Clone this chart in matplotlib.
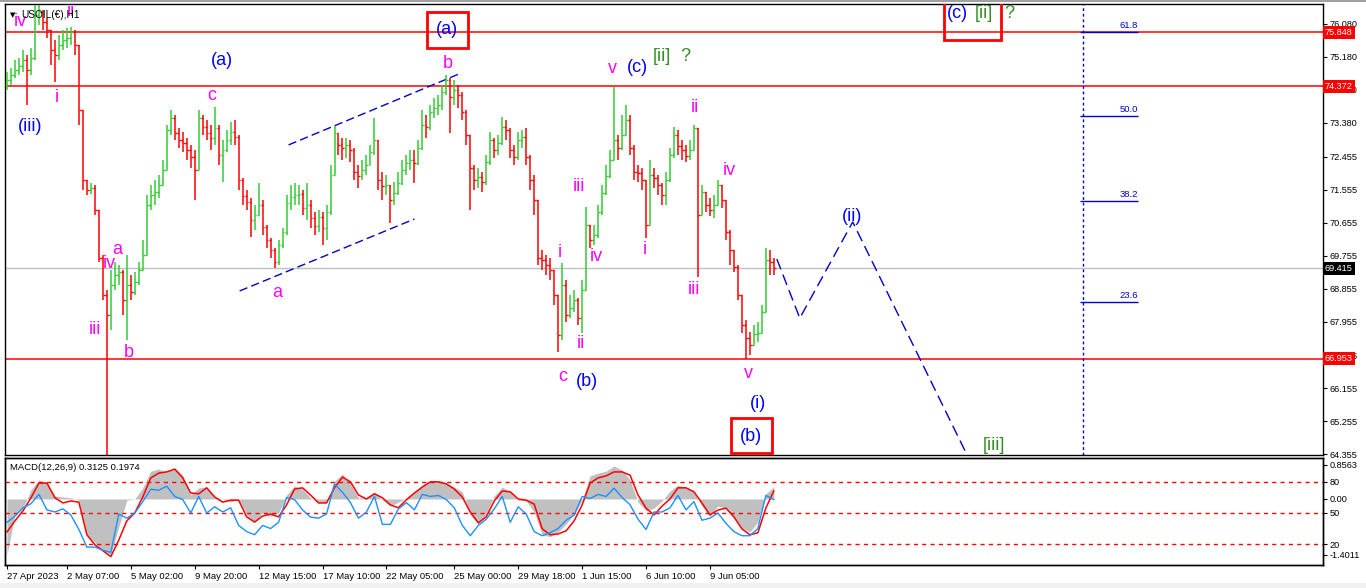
import matplotlib
matplotlib.use("Agg")
import matplotlib.pyplot as plt
import numpy as np
from matplotlib.patches import Rectangle
from matplotlib.transforms import blended_transform_factory

plt.rcParams["font.family"] = ["Liberation Sans", "DejaVu Sans"]

# ---- price bars (H1, one bar per 4 px) ----
first_open = 74.42
close = [
    74.55, 74.69, 74.83, 74.94, 75.10, 74.83, 75.15, 76.33, 76.41, 76.14,
    75.92, 75.37, 75.24, 75.51, 75.64, 75.70, 75.86, 75.51, 73.74, 71.83,
    71.55, 71.61, 71.01, 69.70, 68.69, 68.14, 68.96, 69.23, 69.32, 68.55,
    68.96, 68.77, 69.04, 69.37, 69.78, 71.14, 71.42, 71.50, 71.69, 72.10,
    73.19, 73.52, 73.11, 72.92, 72.84, 72.64, 72.45, 72.10, 73.52, 73.27,
    73.11, 72.97, 73.25, 72.51, 72.64, 72.92, 73.13, 73.00, 71.83, 71.39,
    71.23, 70.74, 70.87, 71.14, 70.54, 70.19, 69.92, 69.59, 70.05, 70.41,
    71.20, 71.36, 71.42, 71.45, 71.06, 71.14, 70.79, 70.57, 70.82, 70.52,
    70.95, 71.96, 73.11, 72.78, 72.70, 72.78, 72.64, 72.04, 71.93, 72.10,
    72.24, 72.59, 72.92, 71.83, 71.66, 71.69, 71.28, 71.47, 71.74, 72.10,
    72.29, 72.37, 72.29, 72.70, 73.33, 73.27, 73.68, 73.79, 73.87, 74.23,
    74.55, 74.09, 74.28, 74.14, 73.68, 73.05, 72.15, 71.83, 71.91, 71.77,
    72.32, 72.92, 72.64, 72.84, 73.27, 73.19, 72.64, 72.45, 72.92, 73.00,
    72.45, 71.83, 71.28, 69.70, 69.64, 69.51, 69.37, 68.69, 67.60, 68.96,
    68.14, 68.34, 68.55, 68.06, 68.83, 70.60, 70.19, 70.33, 70.95, 71.47,
    71.93, 72.37, 72.92, 72.70, 73.05, 73.46, 72.70, 72.04, 72.02, 71.83,
    70.60, 71.96, 71.88, 71.69, 71.42, 71.83, 72.51, 73.05, 72.75, 72.64,
    72.48, 72.64, 73.25, 70.87, 71.50, 71.14, 71.01, 71.14, 71.69, 71.28,
    70.41, 69.92, 69.45, 68.69, 67.87, 67.52, 67.33, 67.63, 67.65, 68.23,
    69.64, 69.59, 69.42,
]
high = [
    74.77, 74.88, 75.10, 75.15, 75.37, 75.24, 75.43, 76.60, 76.60, 76.46,
    76.24, 75.92, 75.64, 75.78, 75.92, 75.97, 76.00, 75.92, 75.51, 73.74,
    71.77, 71.74, 71.69, 71.01, 69.78, 68.83, 69.37, 69.59, 69.51, 69.37,
    69.78, 69.23, 69.32, 69.59, 70.19, 71.42, 71.69, 71.83, 71.96, 72.37,
    73.33, 73.74, 73.60, 73.25, 73.13, 72.97, 72.78, 72.64, 73.74, 73.60,
    73.46, 73.33, 73.82, 73.33, 72.92, 73.19, 73.41, 73.46, 73.05, 71.88,
    71.55, 71.34, 71.14, 71.74, 71.28, 70.60, 70.24, 69.97, 70.19, 70.52,
    71.42, 71.69, 71.74, 71.69, 71.55, 71.74, 71.28, 70.95, 71.01, 70.95,
    71.14, 72.24, 73.30, 73.05, 72.97, 72.97, 72.92, 72.70, 72.24, 72.37,
    72.51, 72.78, 73.52, 72.92, 72.04, 71.96, 71.69, 71.77, 72.04, 72.37,
    72.51, 72.64, 72.64, 72.92, 73.74, 73.60, 73.87, 74.06, 74.14, 74.42,
    74.69, 74.61, 74.55, 74.42, 74.23, 73.74, 73.05, 72.24, 72.15, 72.04,
    72.51, 73.13, 72.97, 73.05, 73.54, 73.46, 73.25, 72.78, 73.13, 73.19,
    73.25, 72.51, 71.96, 71.28, 69.92, 69.78, 69.70, 69.37, 68.69, 69.56,
    69.10, 68.69, 68.83, 68.61, 69.10, 71.09, 70.60, 70.60, 71.14, 71.69,
    72.24, 72.64, 74.36, 73.05, 73.60, 73.87, 73.60, 72.78, 72.24, 72.15,
    71.83, 72.37, 72.15, 71.96, 71.74, 72.04, 72.70, 73.27, 73.19, 72.92,
    72.78, 72.92, 73.33, 73.25, 71.69, 71.50, 71.34, 71.42, 71.83, 71.69,
    71.28, 70.46, 69.92, 69.51, 68.69, 68.01, 67.68, 67.87, 67.95, 68.42,
    69.97, 69.92, 69.70,
]
low = [
    74.28, 74.42, 74.61, 74.69, 74.77, 73.87, 74.69, 75.10, 76.05, 75.92,
    75.70, 74.96, 74.50, 75.10, 75.37, 75.43, 75.51, 75.24, 73.33, 71.55,
    71.42, 71.45, 70.87, 69.59, 68.55, 64.33, 67.74, 68.83, 68.96, 68.14,
    67.46, 68.55, 68.69, 68.96, 69.37, 69.78, 71.01, 71.14, 71.34, 71.69,
    72.10, 73.05, 72.92, 72.70, 72.59, 72.37, 72.15, 71.28, 72.10, 73.05,
    72.92, 72.64, 72.78, 72.24, 71.77, 72.59, 72.78, 72.78, 71.55, 71.14,
    71.01, 70.27, 70.46, 70.87, 70.33, 69.97, 69.70, 69.43, 69.51, 69.97,
    70.33, 71.01, 71.14, 71.14, 70.87, 70.74, 70.52, 70.33, 70.41, 70.05,
    70.19, 70.87, 71.96, 72.51, 72.37, 72.43, 72.32, 71.83, 71.61, 71.83,
    71.96, 72.24, 72.51, 71.55, 71.28, 71.42, 70.65, 71.14, 71.42, 71.69,
    71.96, 72.10, 71.74, 72.24, 72.64, 72.97, 73.19, 73.52, 73.60, 73.74,
    74.14, 73.11, 73.87, 73.79, 73.46, 72.78, 71.01, 71.55, 71.61, 71.50,
    71.69, 72.24, 72.43, 72.51, 72.78, 72.92, 72.43, 72.24, 72.37, 72.70,
    72.24, 71.55, 70.87, 69.51, 69.37, 69.23, 69.10, 68.42, 67.14, 67.46,
    67.95, 68.06, 68.23, 67.87, 67.65, 68.83, 69.97, 70.05, 70.24, 70.87,
    71.42, 71.88, 72.37, 72.37, 72.64, 73.05, 72.51, 71.83, 71.77, 71.55,
    70.24, 70.60, 71.61, 71.42, 71.14, 71.14, 71.77, 72.43, 72.51, 72.37,
    72.32, 72.37, 72.64, 69.18, 70.87, 70.95, 70.84, 70.79, 71.14, 71.06,
    70.19, 69.51, 69.32, 68.55, 67.65, 66.95, 67.05, 67.33, 67.41, 67.87,
    68.23, 69.23, 69.23,
]

# ---- MACD window (one value every 2 bars) ----
macd_hist = [
    -1.40, -0.40, -0.23, 0.23, 0.48, 0.40, 0.08, 0.05, 0.03, -0.03,
    -0.90, -1.10, -1.30, -1.40, -0.70, -0.03, 0.00, 0.28, 0.70, 0.75,
    0.68, 0.78, 0.60, 0.10, 0.28, 0.30, 0.05, 0.00, -0.08, 0.00,
    -0.40, -0.58, -0.35, -0.43, -0.35, 0.10, 0.33, 0.25, 0.03, -0.08,
    -0.08, 0.45, 0.63, 0.38, 0.03, 0.03, 0.18, -0.03, -0.18, -0.08,
    0.03, 0.18, 0.35, 0.45, 0.45, 0.38, 0.30, 0.18, -0.40, -0.63,
    -0.38, 0.08, 0.30, 0.18, -0.03, -0.05, -0.33, -0.90, -0.95, -0.83,
    -0.63, -0.38, -0.03, 0.58, 0.65, 0.70, 0.83, 0.73, 0.48, -0.08,
    -0.30, -0.23, -0.05, 0.20, 0.35, 0.28, 0.18, -0.18, -0.43, -0.18,
    -0.23, -0.45, -0.73, -0.83, -0.58, 0.13, 0.31,
]
macd_signal = [
    -0.83, -0.55, -0.30, 0.03, 0.40, 0.40, 0.03, -0.10, -0.05, -0.08,
    -0.90, -1.15, -1.30, -1.45, -1.03, -0.55, -0.35, 0.05, 0.53, 0.65,
    0.68, 0.75, 0.53, 0.15, 0.13, 0.28, 0.05, -0.08, -0.03, -0.03,
    -0.45, -0.58, -0.43, -0.38, -0.45, -0.15, 0.25, 0.28, 0.10, -0.10,
    -0.10, 0.28, 0.55, 0.43, 0.10, 0.00, 0.13, 0.03, -0.15, -0.22,
    -0.02, 0.15, 0.30, 0.43, 0.43, 0.38, 0.25, 0.05, -0.33, -0.60,
    -0.45, -0.05, 0.20, 0.18, 0.00, -0.03, -0.13, -0.75, -0.90, -0.88,
    -0.80, -0.55, -0.15, 0.40, 0.53, 0.58, 0.68, 0.68, 0.60, 0.10,
    -0.23, -0.40, -0.18, 0.00, 0.28, 0.28, 0.18, -0.10, -0.40, -0.28,
    -0.23, -0.45, -0.75, -0.90, -0.85, -0.23, 0.20,
]
osc_line = [
    41, 47, 55, 59, 68, 53, 51, 54, 48, 34,
    17, 17, 14, 12, 49, 45, 50, 61, 73, 72,
    76, 66, 63, 50, 66, 50, 56, 51, 55, 38,
    32, 29, 38, 35, 41, 65, 63, 53, 46, 45,
    49, 78, 70, 60, 45, 51, 66, 39, 39, 54,
    60, 53, 68, 66, 67, 63, 55, 38, 28, 38,
    44, 54, 66, 41, 56, 49, 32, 28, 31, 35,
    43, 48, 66, 64, 68, 66, 74, 65, 58, 44,
    34, 51, 51, 55, 67, 53, 61, 43, 45, 50,
    40, 32, 28, 28, 35, 67, 63,
]
osc_levels = [80, 50, 20]

# ---- levels and axis labels ----
red_levels = [75.848, 74.372, 66.953]
last_price = 69.415
price_ticks = [76.080, 75.180, 74.280, 73.380, 72.455, 71.555, 70.655,
               69.755, 68.855, 67.955, 67.055, 66.155, 65.255, 64.355]
time_labels = ["27 Apr 2023", "2 May 07:00", "5 May 02:00", "9 May 20:00",
               "12 May 15:00", "17 May 10:00", "22 May 05:00", "25 May 00:00",
               "29 May 18:00", "1 Jun 15:00", "6 Jun 10:00", "9 Jun 05:00"]
time_bars = [0, 15, 31, 47, 63, 79, 95, 112, 128, 144, 160, 176]

fib_names = ["61.8", "50.0", "38.2", "23.6"]
fib_prices = [75.85, 73.57, 71.25, 68.50]
fib_bar = 269.5
fib_span = (268.75, 283.25)

channel_upper = ([70.5, 113.75], [72.78, 74.74])
channel_lower = ([58.25, 102.0], [68.80, 70.76])
forecast_bars = [192.75, 198.5, 211.75, 240.75]
forecast_prices = [69.67, 68.06, 70.68, 64.25]

MAG = "#FF00FF"
BLUE = "#0000FF"
GREEN = "#2F8F1F"
wave_labels = [
    ("iv", 3.25, 76.14, MAG), ("ii", 16.0, 76.41, MAG), ("i", 12.5, 74.06, MAG),
    ("c", 51.25, 74.14, MAG), ("a", 27.5, 69.92, MAG), ("iv", 25.5, 69.56, MAG),
    ("iii", 22.0, 67.74, MAG), ("b", 30.5, 67.11, MAG), ("a", 67.75, 68.77, MAG),
    ("b", 110.25, 74.99, MAG), ("i", 138.5, 69.84, MAG), ("iii", 143.25, 71.66, MAG),
    ("iv", 147.5, 69.75, MAG), ("ii", 143.75, 67.38, MAG), ("c", 139.25, 66.48, MAG),
    ("v", 151.5, 74.85, MAG), ("i", 159.75, 69.92, MAG), ("ii", 172.25, 73.79, MAG),
    ("iii", 172.0, 68.83, MAG), ("iv", 180.75, 72.07, MAG), ("v", 185.75, 66.54, MAG),
    ("(iii)", 5.75, 73.27, BLUE), ("(a)", 53.75, 75.07, BLUE), ("(a)", 110.25, 75.92, BLUE),
    ("(c)", 157.75, 74.88, BLUE), ("(b)", 145.25, 66.34, BLUE), ("(ii)", 211.5, 70.84, BLUE),
    ("(i)", 188.0, 65.74, BLUE), ("(b)", 186.25, 64.84, BLUE), ("(c)", 238.0, 76.35, BLUE),
    ("[ii]", 164.0, 75.18, GREEN), ("?", 169.75, 75.18, GREEN),
    ("[ii]", 244.5, 76.35, GREEN), ("?", 251.0, 76.35, GREEN),
    ("[iii]", 247.0, 64.60, GREEN),
]
# red frames: (bar from, bar to, price from, price to)
wave_boxes = [(105.25, 115.5, 75.43, 76.41),
              (234.5, 249.0, 75.64, 76.70),
              (181.25, 191.5, 64.38, 65.34)]

# ---- figure ----
W, H = 1366, 588
fig = plt.figure(figsize=(W / 100, H / 100), dpi=100)
fig.patch.set_facecolor("white")
fig.patches.append(Rectangle((0, 0), 1, 5 / H, transform=fig.transFigure,
                             facecolor="#F0F0F0", edgecolor="none"))
fig.patches.append(Rectangle((0, 1 - 2 / H), 1, 2 / H, transform=fig.transFigure,
                             facecolor="#A0A0A0", edgecolor="none"))

left, right = 5 / W, 1323 / W
ax = fig.add_axes([left, 1 - 455 / H, right - left, 451 / H])
ax2 = fig.add_axes([left, 1 - 565 / H, right - left, 107 / H], sharex=ax)
ax3 = ax2.twinx()

bars = np.arange(len(close))
c = np.array(close)
o = np.r_[first_open, c[:-1]]
hi = np.maximum(np.array(high), np.maximum(o, c))
lo = np.minimum(np.array(low), np.minimum(o, c))
cols = np.where(c >= o, "#33CC33", "#FF0000")

for level in red_levels:
    ax.axhline(level, color="red", lw=1.1, zorder=1)
ax.axhline(last_price, color="#C0C0C0", lw=1, zorder=1)

ax.vlines(bars, lo, hi, colors=cols, lw=1.1, zorder=3)
ax.hlines(o, bars - 0.45, bars, colors=cols, lw=1.0, zorder=3)
ax.hlines(c, bars, bars + 0.45, colors=cols, lw=1.0, zorder=3)

ax.plot(*channel_upper, color="#0000CC", lw=1, ls=(0, (6, 3)), zorder=2)
ax.plot(*channel_lower, color="#0000CC", lw=1, ls=(0, (6, 3)), zorder=2)
ax.plot(forecast_bars, forecast_prices, color="#0000CC", lw=1, ls=(0, (8, 4)), zorder=2)

ax.axvline(fib_bar, color="#0000CC", lw=1, ls=(0, (2, 2)), zorder=2)
for name, price in zip(fib_names, fib_prices):
    ax.hlines(price, fib_span[0], fib_span[1], color="#0000CC", lw=1, zorder=2)
    ax.text(fib_span[1], price + 0.06, name, color="#0000CC", fontsize=6.8,
            ha="right", va="bottom")

for x0, x1, y0, y1 in wave_boxes:
    ax.add_patch(Rectangle((x0, y0), x1 - x0, y1 - y0, fill=False,
                           edgecolor="red", lw=2, zorder=4))
for text, xb, yp, col in wave_labels:
    ax.text(xb, yp, text, color=col, fontsize=13, ha="center", va="center",
            zorder=5, clip_on=True)

ax.text(0.0035, 0.983, "\u25bc", transform=ax.transAxes, fontsize=5,
        ha="left", va="top", family="DejaVu Sans")
ax.text(0.012, 0.987, "USOIL(\u20ac),H1", transform=ax.transAxes, fontsize=7.3,
        ha="left", va="top", zorder=6)

ax.set_xlim(-0.5, 329.5)
ax.set_ylim(64.33, 76.62)
ax.yaxis.tick_right()
ax.set_yticks(price_ticks)
ax.set_yticklabels([f"{v:.3f}" for v in price_ticks])
ax.tick_params(axis="y", labelsize=6.6, length=3, width=0.8, pad=2, direction="out")
ax.tick_params(axis="x", bottom=False, labelbottom=False)

tag = blended_transform_factory(ax.transAxes, ax.transData)
for level in red_levels:
    ax.text(1.0015, level, f"{level:.3f}", transform=tag, color="white",
            fontsize=6.6, ha="left", va="center", zorder=10, clip_on=False,
            bbox=dict(boxstyle="square,pad=0.2", fc="red", ec="none"))
ax.text(1.0015, last_price, f"{last_price:.3f}", transform=tag, color="white",
        fontsize=6.6, ha="left", va="center", zorder=10, clip_on=False,
        bbox=dict(boxstyle="square,pad=0.2", fc="black", ec="none"))

# ---- MACD window ----
macd_x = bars[::2]
ax2.fill_between(macd_x, 0, macd_hist, color="#C0C0C0", lw=0, zorder=1)
ax2.plot(macd_x, macd_signal, color="red", lw=1.1, zorder=3)
ax2.set_ylim(-1.66, 1.03)
ax2.yaxis.tick_right()
ax2.set_yticks([0.8563, 0.0, -1.4011])
ax2.set_yticklabels(["0.8563", "0.00", "-1.4011"])
ax2.tick_params(axis="y", left=False, labelleft=False, right=True, labelright=True,
                labelsize=6.6, length=3, width=0.8, pad=2)
ax2.set_xticks(time_bars)
ax2.set_xticklabels(time_labels, ha="left", fontsize=6.8)
ax2.tick_params(axis="x", length=3, width=0.8, pad=2)
ax2.text(0.004, 0.915, "MACD(12,26,9) 0.3125 0.1974", transform=ax2.transAxes,
         fontsize=6.8, ha="left", va="center")

for level in osc_levels:
    ax3.axhline(level, color="red", lw=1, ls=(0, (3, 3)))
ax3.plot(macd_x, osc_line, color="#1E90FF", lw=1)
ax3.set_ylim(-0.3, 103.2)
ax3.set_yticks(osc_levels)
ax3.set_yticklabels([str(v) for v in osc_levels])
ax3.tick_params(axis="y", labelsize=6.6, length=3, width=0.8, pad=2)

for a in (ax, ax2, ax3):
    for sp in a.spines.values():
        sp.set_color("black")
        sp.set_linewidth(1)

fig.savefig("out.png", dpi=100)
